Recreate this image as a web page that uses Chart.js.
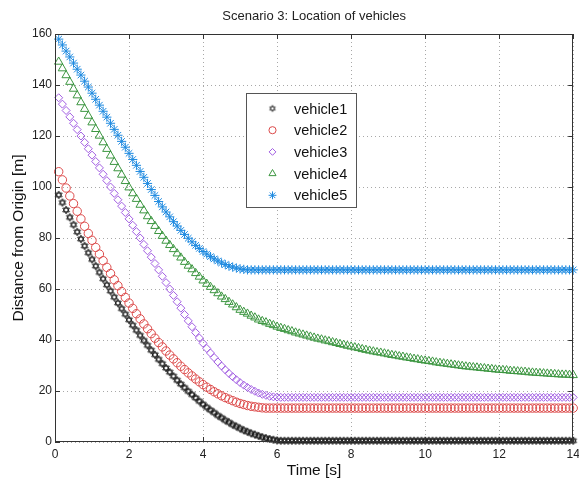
<!DOCTYPE html>
<html>
<head>
<meta charset="utf-8">
<script src="https://cdn.jsdelivr.net/npm/chart.js@4/dist/chart.umd.min.js"></script>
<style>
html,body{margin:0;padding:0;background:#fff;}
#c{display:block;}
</style>
</head>
<body>
<canvas id="c" width="579" height="485"></canvas>
<script>
const FONT = "'Liberation Sans', Arial, Helvetica, sans-serif";
const chartTitle = 'Scenario 3: Location of vehicles';
const xTitle = 'Time [s]';
const yTitle = 'Distance from Origin [m]';
const seriesNames = ['vehicle1','vehicle2','vehicle3','vehicle4','vehicle5'];
const xTicks = [0,2,4,6,8,10,12,14];
const yTicks = [0,20,40,60,80,100,120,140,160];

const times = [
0.1,0.2,0.3,0.4,0.5,0.6,0.7,0.8,0.9,1.0,
1.1,1.2,1.3,1.4,1.5,1.6,1.7,1.8,1.9,2.0,
2.1,2.2,2.3,2.4,2.5,2.6,2.7,2.8,2.9,3.0,
3.1,3.2,3.3,3.4,3.5,3.6,3.7,3.8,3.9,4.0,
4.1,4.2,4.3,4.4,4.5,4.6,4.7,4.8,4.9,5.0,
5.1,5.2,5.3,5.4,5.5,5.6,5.7,5.8,5.9,6.0,
6.1,6.2,6.3,6.4,6.5,6.6,6.7,6.8,6.9,7.0,
7.1,7.2,7.3,7.4,7.5,7.6,7.7,7.8,7.9,8.0,
8.1,8.2,8.3,8.4,8.5,8.6,8.7,8.8,8.9,9.0,
9.1,9.2,9.3,9.4,9.5,9.6,9.7,9.8,9.9,10.0,
10.1,10.2,10.3,10.4,10.5,10.6,10.7,10.8,10.9,11.0,
11.1,11.2,11.3,11.4,11.5,11.6,11.7,11.8,11.9,12.0,
12.1,12.2,12.3,12.4,12.5,12.6,12.7,12.8,12.9,13.0,
13.1,13.2,13.3,13.4,13.5,13.6,13.7,13.8,13.9,14.0];

const vehicle1 = [
96.9,93.9,91.0,88.1,85.2,82.4,79.6,76.9,74.2,71.6,
69.0,66.5,64.0,61.6,59.2,56.8,54.5,52.3,50.1,47.9,
45.8,43.8,41.8,39.8,37.9,36.0,34.2,32.4,30.7,29.0,
27.4,25.8,24.2,22.7,21.3,19.9,18.6,17.3,16.0,14.8,
13.6,12.5,11.5,10.4,9.5,8.5,7.7,6.8,6.1,5.3,
4.6,4.0,3.4,2.9,2.4,1.9,1.5,1.2,0.9,0.6,
0.5,0.5,0.5,0.5,0.5,0.5,0.5,0.5,0.5,0.5,
0.5,0.5,0.5,0.5,0.5,0.5,0.5,0.5,0.5,0.5,
0.5,0.5,0.5,0.5,0.5,0.5,0.5,0.5,0.5,0.5,
0.5,0.5,0.5,0.5,0.5,0.5,0.5,0.5,0.5,0.5,
0.5,0.5,0.5,0.5,0.5,0.5,0.5,0.5,0.5,0.5,
0.5,0.5,0.5,0.5,0.5,0.5,0.5,0.5,0.5,0.5,
0.5,0.5,0.5,0.5,0.5,0.5,0.5,0.5,0.5,0.5,
0.5,0.5,0.5,0.5,0.5,0.5,0.5,0.5,0.5,0.5];

const vehicle2 = [
106.0,102.8,99.6,96.5,93.5,90.5,87.5,84.6,81.8,79.1,
76.3,73.7,71.1,68.5,66.1,63.6,61.3,59.0,56.7,54.5,
52.4,50.3,48.3,46.3,44.4,42.5,40.7,39.0,37.3,35.7,
34.1,32.6,31.1,29.7,28.4,27.1,25.9,24.7,23.6,22.5,
21.5,20.6,19.7,18.9,18.1,17.4,16.8,16.2,15.6,15.1,
14.7,14.3,14.0,13.8,13.6,13.4,13.3,13.3,13.3,13.3,
13.3,13.3,13.3,13.3,13.3,13.3,13.3,13.3,13.3,13.3,
13.3,13.3,13.3,13.3,13.3,13.3,13.3,13.3,13.3,13.3,
13.3,13.3,13.3,13.3,13.3,13.3,13.3,13.3,13.3,13.3,
13.3,13.3,13.3,13.3,13.3,13.3,13.3,13.3,13.3,13.3,
13.3,13.3,13.3,13.3,13.3,13.3,13.3,13.3,13.3,13.3,
13.3,13.3,13.3,13.3,13.3,13.3,13.3,13.3,13.3,13.3,
13.3,13.3,13.3,13.3,13.3,13.3,13.3,13.3,13.3,13.3,
13.3,13.3,13.3,13.3,13.3,13.3,13.3,13.3,13.3,13.3];

const vehicle3 = [
135.0,132.5,130.0,127.5,125.0,122.5,120.0,117.5,115.0,112.5,
110.0,107.5,105.0,102.5,100.0,97.5,95.0,92.5,90.0,87.5,
85.0,82.5,80.0,77.5,75.0,72.5,70.0,67.5,65.0,62.5,
60.0,57.5,55.0,52.5,50.0,47.5,45.2,42.9,40.8,38.7,
36.7,34.9,33.1,31.4,29.8,28.3,26.9,25.6,24.4,23.3,
22.3,21.4,20.6,19.9,19.2,18.7,18.3,17.9,17.7,17.6,
17.5,17.5,17.5,17.5,17.5,17.5,17.5,17.5,17.5,17.5,
17.5,17.5,17.5,17.5,17.5,17.5,17.5,17.5,17.5,17.5,
17.5,17.5,17.5,17.5,17.5,17.5,17.5,17.5,17.5,17.5,
17.5,17.5,17.5,17.5,17.5,17.5,17.5,17.5,17.5,17.5,
17.5,17.5,17.5,17.5,17.5,17.5,17.5,17.5,17.5,17.5,
17.5,17.5,17.5,17.5,17.5,17.5,17.5,17.5,17.5,17.5,
17.5,17.5,17.5,17.5,17.5,17.5,17.5,17.5,17.5,17.5,
17.5,17.5,17.5,17.5,17.5,17.5,17.5,17.5,17.5,17.5];

const vehicle4 = [
149.1,146.5,143.8,141.2,138.5,135.9,133.2,130.6,127.9,125.3,
122.7,120.1,117.5,114.9,112.3,109.8,107.3,104.8,102.3,99.8,
97.5,95.3,93.0,90.8,88.5,86.6,84.7,82.7,80.8,78.9,
77.2,75.6,73.9,72.3,70.6,69.1,67.7,66.2,64.8,63.3,
62.0,60.8,59.5,58.3,57.0,56.0,54.9,53.9,52.8,51.8,
51.0,50.3,49.5,48.8,48.0,47.4,46.9,46.3,45.8,45.2,
44.7,44.3,43.8,43.4,42.9,42.5,42.1,41.7,41.3,40.9,
40.5,40.2,39.8,39.5,39.1,38.8,38.4,38.1,37.7,37.4,
37.1,36.8,36.4,36.1,35.8,35.5,35.2,35.0,34.7,34.4,
34.1,33.9,33.6,33.4,33.1,32.9,32.6,32.4,32.1,31.9,
31.7,31.5,31.2,31.0,30.8,30.6,30.4,30.2,30.0,29.8,
29.6,29.5,29.3,29.2,29.0,28.9,28.7,28.6,28.4,28.3,
28.2,28.1,27.9,27.8,27.7,27.6,27.5,27.3,27.2,27.1,
27.0,26.9,26.8,26.7,26.6,26.5,26.4,26.4,26.3,26.2];

const vehicle5 = [
158.0,155.7,153.3,151.0,148.6,146.2,143.9,141.5,139.2,136.8,
134.4,132.1,129.7,127.4,125.0,122.6,120.3,117.9,115.6,113.2,
110.8,108.5,106.1,103.8,101.4,99.0,96.7,94.3,92.2,90.2,
88.3,86.4,84.7,83.0,81.4,79.9,78.5,77.1,75.9,74.7,
73.7,72.7,71.8,71.0,70.2,69.6,69.0,68.6,68.2,67.9,
67.7,67.5,67.5,67.5,67.5,67.5,67.5,67.5,67.5,67.5,
67.5,67.5,67.5,67.5,67.5,67.5,67.5,67.5,67.5,67.5,
67.5,67.5,67.5,67.5,67.5,67.5,67.5,67.5,67.5,67.5,
67.5,67.5,67.5,67.5,67.5,67.5,67.5,67.5,67.5,67.5,
67.5,67.5,67.5,67.5,67.5,67.5,67.5,67.5,67.5,67.5,
67.5,67.5,67.5,67.5,67.5,67.5,67.5,67.5,67.5,67.5,
67.5,67.5,67.5,67.5,67.5,67.5,67.5,67.5,67.5,67.5,
67.5,67.5,67.5,67.5,67.5,67.5,67.5,67.5,67.5,67.5,
67.5,67.5,67.5,67.5,67.5,67.5,67.5,67.5,67.5,67.5];

const seriesValues = [vehicle1, vehicle2, vehicle3, vehicle4, vehicle5];
const seriesColors = ['#1a1a1a', '#dc4a4a', '#a25ee2', '#3c9640', '#1e8ae0'];

// hexagram marker (MATLAB 'h')
function makeHexagram(color, r, lw) {
  const cv = document.createElement('canvas');
  cv.width = 12; cv.height = 12;
  const g = cv.getContext('2d');
  g.strokeStyle = color; g.lineWidth = lw;
  const cx = 6, cy = 6;
  [ -90, 90 ].forEach(start => {
    g.beginPath();
    for (let k = 0; k < 3; k++) {
      const a = (start + k * 120) * Math.PI / 180;
      const px = cx + r * Math.cos(a), py = cy + r * Math.sin(a);
      if (k === 0) g.moveTo(px, py); else g.lineTo(px, py);
    }
    g.closePath(); g.stroke();
  });
  return cv;
}
const hexImg = makeHexagram(seriesColors[0], 3.8, 1);
const hexLegend = makeHexagram('#444', 3.2, 0.9);
const seriesStyles = [hexImg, 'circle', 'rectRot', 'triangle', 'star'];
const legendStyles = [hexLegend, 'circle', 'rectRot', 'triangle', 'star'];
const seriesRadius = [4, 4.2, 4, 4.8, 4.6];

const datasets = seriesNames.map((name, i) => ({
  label: name,
  data: times.map((t, k) => ({x: t, y: seriesValues[i][k]})),
  showLine: false,
  pointStyle: seriesStyles[i],
  pointRadius: seriesRadius[i],
  pointBorderWidth: 1,
  borderColor: seriesColors[i],
  backgroundColor: 'rgba(0,0,0,0)',
  pointBackgroundColor: 'rgba(0,0,0,0)',
  clip: false,
  order: 5 - i
}));

const decorPlugin = {
  id: 'decor',
  afterDraw(chart) {
    const ctx = chart.ctx;
    const a = chart.chartArea;
    const xs = chart.scales.x, ys = chart.scales.y;
    ctx.save();
    // box
    ctx.strokeStyle = '#333';
    ctx.lineWidth = 1;
    ctx.strokeRect(Math.round(a.left) + 0.5, Math.round(a.top) + 0.5,
                   Math.round(a.right - a.left) - 1, Math.round(a.bottom - a.top) - 1);
    // inward ticks
    ctx.beginPath();
    xTicks.forEach(v => {
      const px = Math.round(xs.getPixelForValue(v)) + 0.5;
      ctx.moveTo(px, a.bottom); ctx.lineTo(px, a.bottom - 5);
      ctx.moveTo(px, a.top); ctx.lineTo(px, a.top + 5);
    });
    yTicks.forEach(v => {
      const py = Math.round(ys.getPixelForValue(v)) + 0.5;
      ctx.moveTo(a.left, py); ctx.lineTo(a.left + 5, py);
      ctx.moveTo(a.right, py); ctx.lineTo(a.right - 5, py);
    });
    ctx.stroke();
    // title
    ctx.fillStyle = '#222';
    ctx.font = '13px ' + FONT;
    ctx.textAlign = 'center';
    ctx.textBaseline = 'middle';
    ctx.fillText(chartTitle, (a.left + a.right) / 2, 16);
    // legend
    const bx = 246.5, by = 93.5, bw = 110, bh = 114;
    ctx.fillStyle = '#fff';
    ctx.fillRect(bx, by, bw, bh);
    ctx.strokeStyle = '#555';
    ctx.strokeRect(bx, by, bw, bh);
    ctx.font = '14.5px ' + FONT;
    ctx.textAlign = 'left';
    seriesNames.forEach((name, i) => {
      const cy = 108.5 + i * 21.7;
      ctx.strokeStyle = seriesColors[i];
      ctx.fillStyle = 'rgba(0,0,0,0)';
      ctx.lineWidth = 1;
      Chart.helpers.drawPoint(ctx, {pointStyle: legendStyles[i], radius: seriesRadius[i] * 0.85, rotation: 0, borderWidth: 1}, 272.5, cy);
      ctx.fillStyle = '#111';
      ctx.fillText(name, 294, cy + 1);
    });
    ctx.restore();
  }
};

new Chart(document.getElementById('c'), {
  type: 'scatter',
  data: { datasets },
  options: {
    responsive: false,
    animation: false,
    events: [],
    layout: { padding: { left: 0, right: 4, top: 34, bottom: 0 } },
    plugins: { legend: { display: false }, title: { display: false }, tooltip: { enabled: false } },
    scales: {
      x: {
        type: 'linear', min: 0, max: 14,
        afterBuildTicks: s => { s.ticks = xTicks.map(v => ({value: v})); },
        ticks: { padding: 5, color: '#222', font: { family: FONT, size: 12 } },
        grid: { color: '#a8a8a8', drawTicks: false, lineWidth: 1 },
        border: { display: false, dash: [1, 3] },
        title: { display: true, text: xTitle, color: '#111', font: { family: FONT, size: 15.5 }, padding: { top: 0, bottom: 5 } },
        afterFit: s => { s.height = 43; s.paddingLeft = 0; s.paddingRight = 0; }
      },
      y: {
        type: 'linear', min: 0, max: 160,
        afterBuildTicks: s => { s.ticks = yTicks.map(v => ({value: v})); },
        ticks: { padding: 3, color: '#222', font: { family: FONT, size: 12 } },
        grid: { color: '#a8a8a8', drawTicks: false, lineWidth: 1 },
        border: { display: false, dash: [1, 3] },
        title: { display: true, text: yTitle, color: '#111', font: { family: FONT, size: 15.5 }, padding: { top: 9, bottom: 0 } },
        afterFit: s => { s.width = 55; s.paddingTop = 0; s.paddingBottom = 0; }
      }
    }
  },
  plugins: [decorPlugin]
});
</script>
</body>
</html>
